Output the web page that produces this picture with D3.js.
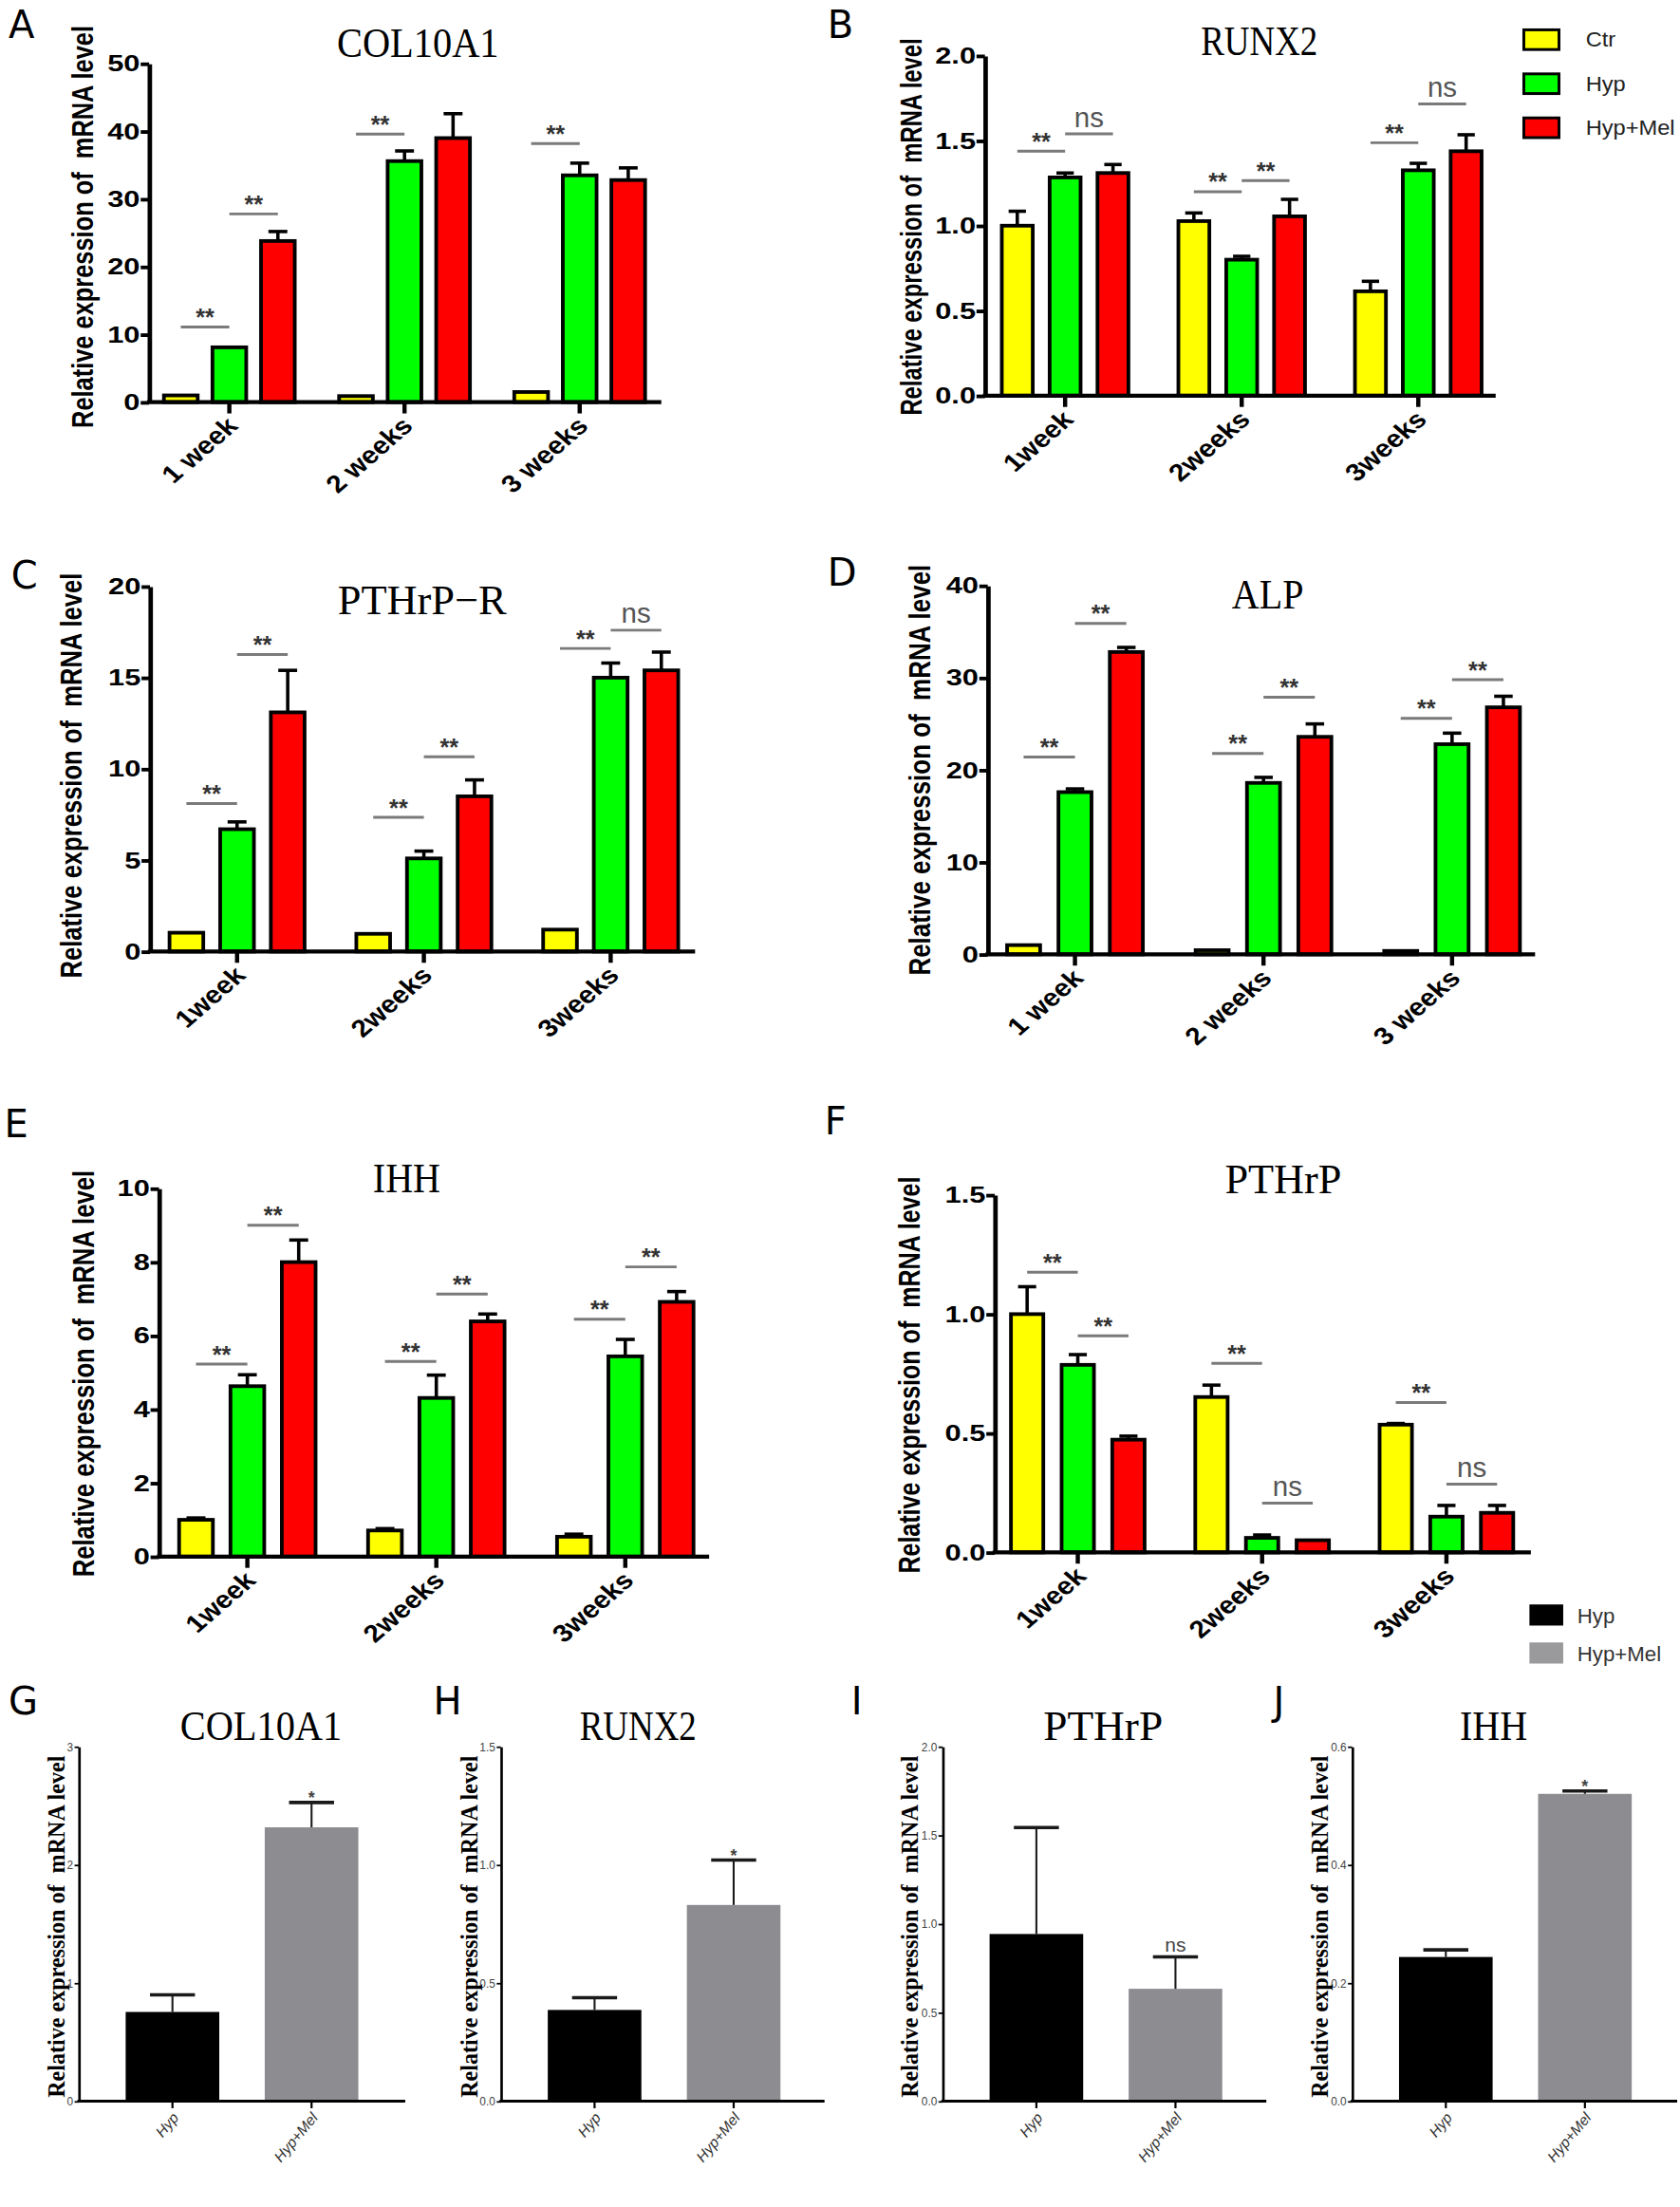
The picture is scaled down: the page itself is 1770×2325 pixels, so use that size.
<!DOCTYPE html>
<html>
<head>
<meta charset="utf-8">
<script src="https://cdn.jsdelivr.net/npm/d3@7"></script>
<style>
  body { margin: 0; background: #fff; }
  text { font-family: "Liberation Sans", Arial, sans-serif; }
</style>
</head>
<body>
<div id="chart"></div>
<script>
// qPCR figure, panels A-J

// ---- data ----
var seriesNames = ["Ctr", "Hyp", "Hyp+Mel"];
var seriesColors = ["#ffff00", "#00ff00", "#ff0000"];
var weeksSpaced = ["1 week", "2 weeks", "3 weeks"];
var weeksTight = ["1week", "2weeks", "3weeks"];

// mean per week: [Ctr, Hyp, Hyp+Mel]; err = upper error bar length
// sig rows: [week, from series, to series, line height, label]
var col10a1Ticks = [0, 10, 20, 30, 40, 50];
var col10a1Mean = [[1.0, 8.1, 23.8], [0.9, 35.6, 39.0], [1.5, 33.5, 32.8]];
var col10a1Err = [[0, 0, 1.4], [0, 1.5, 3.6], [0, 1.8, 1.8]];
var col10a1Sig = [[0, 0, 1, 11.1, "**"], [0, 1, 2, 27.8, "**"], [1, 0, 1, 39.6, "**"], [2, 0, 1, 38.2, "**"]];

var runx2Ticks = [0, 0.5, 1.0, 1.5, 2.0];
var runx2Mean = [[1.0, 1.284, 1.31], [1.027, 0.80, 1.055], [0.614, 1.326, 1.438]];
var runx2Err = [[0.085, 0.026, 0.05], [0.048, 0.02, 0.10], [0.059, 0.041, 0.097]];
var runx2Sig = [[0, 0, 1, 1.438, "**"], [0, 1, 2, 1.54, "ns"], [1, 0, 1, 1.2, "**"], [1, 1, 2, 1.265, "**"], [2, 0, 1, 1.488, "**"], [2, 1, 2, 1.716, "ns"]];

var pthrprTicks = [0, 5, 10, 15, 20];
var pthrprMean = [[1.03, 6.7, 13.1], [0.97, 5.1, 8.5], [1.2, 15.0, 15.4]];
var pthrprErr = [[0, 0.4, 2.3], [0, 0.4, 0.9], [0, 0.8, 1.0]];
var pthrprSig = [[0, 0, 1, 8.1, "**"], [0, 1, 2, 16.27, "**"], [1, 0, 1, 7.35, "**"], [1, 1, 2, 10.67, "**"], [2, 0, 1, 16.6, "**"], [2, 1, 2, 17.6, "ns"]];

var alpTicks = [0, 10, 20, 30, 40];
var alpMean = [[1.0, 17.6, 32.8], [0.45, 18.6, 23.6], [0.37, 22.8, 26.8]];
var alpErr = [[0, 0.35, 0.5], [0, 0.6, 1.4], [0, 1.2, 1.2]];
var alpSig = [[0, 0, 1, 21.4, "**"], [0, 1, 2, 35.9, "**"], [1, 0, 1, 21.8, "**"], [1, 1, 2, 27.9, "**"], [2, 0, 1, 25.6, "**"], [2, 1, 2, 29.8, "**"]];

var ihhTicks = [0, 2, 4, 6, 8, 10];
var ihhMean = [[1.0, 4.63, 8.0], [0.71, 4.31, 6.39], [0.54, 5.44, 6.92]];
var ihhErr = [[0.05, 0.31, 0.6], [0.05, 0.62, 0.2], [0.07, 0.46, 0.28]];
var ihhSig = [[0, 0, 1, 5.23, "**"], [0, 1, 2, 9.0, "**"], [1, 0, 1, 5.3, "**"], [1, 1, 2, 7.13, "**"], [2, 0, 1, 6.45, "**"], [2, 1, 2, 7.87, "**"]];

var pthrpTicks = [0, 0.5, 1.0, 1.5];
var pthrpMean = [[1.0, 0.787, 0.473], [0.652, 0.061, 0.051], [0.536, 0.15, 0.166]];
var pthrpErr = [[0.115, 0.043, 0.015], [0.05, 0.012, 0], [0.005, 0.047, 0.031]];
var pthrpSig = [[0, 0, 1, 1.176, "**"], [0, 1, 2, 0.909, "**"], [1, 0, 1, 0.793, "**"], [1, 1, 2, 0.207, "ns"], [2, 0, 1, 0.629, "**"], [2, 1, 2, 0.286, "ns"]];

// bottom row: Hyp vs Hyp+Mel
var groupNames = ["Hyp", "Hyp+Mel"];
var groupColors = ["#000000", "#8d8c91"];
var gCol10a1Ticks = [0, 1, 2, 3];
var gCol10a1Mean = [0.755, 2.317];
var gCol10a1Err = [0.145, 0.21];
var hRunx2Ticks = [0, 0.5, 1.0, 1.5];
var hRunx2Mean = [0.386, 0.83];
var hRunx2Err = [0.052, 0.19];
var iPthrpTicks = [0, 0.5, 1.0, 1.5, 2.0];
var iPthrpMean = [0.943, 0.634];
var iPthrpErr = [0.60, 0.18];
var jIhhTicks = [0, 0.2, 0.4, 0.6];
var jIhhMean = [0.244, 0.52];
var jIhhErr = [0.012, 0.005];

var yTitle = "Relative expression of  mRNA level";

// ---- layout ----
var SX = 1.3;   // the top panels' tick and axis text is stretched sideways
var SXL = 1.15; // week labels

var topPanels = [
  {letter: "A", lx: 6, ly: 27, title: "COL10A1", tx: 297, ty: 40, tw: 115,
   cats: weeksSpaced, ticks: col10a1Ticks, fmt: "d", mean: col10a1Mean, err: col10a1Err, sig: col10a1Sig,
   ax0: 106, ax1: 470, yTop: 45, yBot: 285.6, band: [100.75, 474.25], pitch: 34.5, bw: 24,
   ylx: 66, yly: 161, yll: 286},
  {letter: "B", lx: 588, ly: 26.5, title: "RUNX2", tx: 895, ty: 39, tw: 83,
   cats: weeksTight, ticks: runx2Ticks, fmt: ".1f", mean: runx2Mean, err: runx2Err, sig: runx2Sig,
   ax0: 700, ax1: 1063, yTop: 39.4, yBot: 281, band: [694.25, 1070.75], pitch: 34, bw: 22,
   ylx: 655, yly: 161, yll: 268, legend: true},
  {letter: "C", lx: 8, ly: 418, title: "PTHrP\u2212R", tx: 300, ty: 436, tw: 120,
   cats: weeksTight, ticks: pthrprTicks, fmt: "d", mean: pthrprMean, err: pthrprErr, sig: pthrprSig,
   ax0: 106.6, ax1: 494, yTop: 416.5, yBot: 676, band: [102.1, 500.4], pitch: 36, bw: 24,
   ylx: 58, yly: 551, yll: 288},
  {letter: "D", lx: 588, ly: 416, title: "ALP", tx: 901, ty: 432, tw: 51,
   cats: weeksSpaced, ticks: alpTicks, fmt: "d", mean: alpMean, err: alpErr, sig: alpSig,
   ax0: 702, ax1: 1091, yTop: 416, yBot: 678, band: [697, 1099], pitch: 36.5, bw: 23.5,
   ylx: 661, yly: 547, yll: 292},
  {letter: "E", lx: 3, ly: 808, title: "IHH", tx: 289, ty: 847, tw: 48,
   cats: weeksTight, ticks: ihhTicks, fmt: "d", mean: ihhMean, err: ihhErr, sig: ihhSig,
   ax0: 113, ax1: 504, yTop: 844.4, yBot: 1106, band: [108.65, 511.55], pitch: 36.5, bw: 24,
   ylx: 67, yly: 976, yll: 289},
  {letter: "F", lx: 586, ly: 806, title: "PTHrP", tx: 912, ty: 848, tw: 83,
   cats: weeksTight, ticks: pthrpTicks, fmt: ".1f", mean: pthrpMean, err: pthrpErr, sig: pthrpSig,
   ax0: 707, ax1: 1088, yTop: 849, yBot: 1103, band: [700.5, 1093.5], pitch: 36, bw: 23,
   ylx: 654, yly: 977, yll: 282}
];

var bottomPanels = [
  {letter: "G", lx: 6, title: "COL10A1", tx: 185.5, tw: 115, ticks: gCol10a1Ticks, fmt: "d",
   mean: gCol10a1Mean, err: gCol10a1Err, mark: "*", ax0: 56, ax1: 288, ylx: 46},
  {letter: "H", lx: 308, title: "RUNX2", tx: 453.5, tw: 83, ticks: hRunx2Ticks, fmt: ".1f",
   mean: hRunx2Mean, err: hRunx2Err, mark: "*", ax0: 356, ax1: 586, ylx: 339},
  {letter: "I", lx: 605, title: "PTHrP", tx: 784, tw: 85, ticks: iPthrpTicks, fmt: ".1f",
   mean: iPthrpMean, err: iPthrpErr, mark: "ns", ax0: 670, ax1: 900, ylx: 652},
  {letter: "J", lx: 905, title: "IHH", tx: 1061.5, tw: 48, ticks: jIhhTicks, fmt: ".1f",
   mean: jIhhMean, err: jIhhErr, mark: "*", ax0: 961, ax1: 1192, ylx: 944}
];

var svg = d3.select("#chart").append("svg")
  .attr("width", 1770)
  .attr("height", 2325)
  .attr("viewBox", "0 0 1194 1568");

svg.append("rect").attr("width", 1194).attr("height", 1568).attr("fill", "#fff");

function panelLetter(txt, x, y) {
  svg.append("text")
    .attr("x", x).attr("y", y)
    .style("font-family", "'DejaVu Sans', sans-serif")
    .attr("font-size", 27)
    .text(txt);
}

function panelTitle(txt, x, y, w) {
  svg.append("text")
    .attr("x", x - w / 2).attr("y", y)
    .attr("textLength", w)
    .attr("lengthAdjust", "spacingAndGlyphs")
    .style("font-family", "'Liberation Serif', 'Times New Roman', serif")
    .attr("font-size", 30)
    .text(txt);
}

function drawTop(p) {
  var g = svg.append("g");
  var y = d3.scaleLinear().domain([0, d3.max(p.ticks)]).range([p.yBot, p.yTop]);
  var x0 = d3.scaleBand().domain(p.cats).range(p.band);
  var pad = (p.pitch - p.bw) / p.pitch;
  var x1 = d3.scaleBand().domain(seriesNames)
    .range([-1.5 * p.pitch, 1.5 * p.pitch])
    .paddingInner(pad).paddingOuter(pad / 2);

  var rows = [];
  p.cats.forEach(function(c, i) {
    seriesNames.forEach(function(s, j) {
      rows.push({cat: c, s: s, j: j, v: p.mean[i][j], e: p.err[i][j]});
    });
  });
  function left(d) { return x0(d.cat) + x0.bandwidth() / 2 + x1(d.s); }
  function mid(d) { return left(d) + x1.bandwidth() / 2; }

  // error bars (upper only)
  var eb = g.append("g").selectAll("g").data(rows.filter(function(d) { return d.e > 0; }))
    .enter().append("g")
    .attr("stroke", "#000").attr("stroke-width", 2.4);
  eb.append("line")
    .attr("x1", mid).attr("x2", mid)
    .attr("y1", function(d) { return y(d.v); })
    .attr("y2", function(d) { return y(d.v + d.e); });
  eb.append("line")
    .attr("x1", function(d) { return mid(d) - p.bw * 0.28; })
    .attr("x2", function(d) { return mid(d) + p.bw * 0.28; })
    .attr("y1", function(d) { return y(d.v + d.e); })
    .attr("y2", function(d) { return y(d.v + d.e); });

  g.append("g").selectAll("rect").data(rows).enter().append("rect")
    .attr("x", left)
    .attr("y", function(d) { return y(d.v); })
    .attr("width", x1.bandwidth())
    .attr("height", function(d) { return y(0) - y(d.v); })
    .attr("fill", function(d) { return seriesColors[d.j]; })
    .attr("stroke", "#000")
    .attr("stroke-width", 2.6);

  // y axis
  var ya = g.append("g")
    .attr("transform", "translate(" + p.ax0 + ",0)")
    .call(d3.axisLeft(y).tickValues(p.ticks).tickSize(6).tickSizeOuter(0)
      .tickFormat(d3.format(p.fmt)));
  ya.select(".domain").attr("stroke-width", 3.2);
  ya.selectAll(".tick line").attr("stroke-width", 2.6);
  ya.selectAll(".tick text")
    .attr("x", -6.5 / SX)
    .attr("transform", "scale(" + SX + ",1)")
    .attr("font-size", 16).attr("font-weight", "bold")
    .style("font-family", "'Liberation Sans', Arial, sans-serif")
    .attr("fill", "#000");

  // x axis
  g.append("line")
    .attr("x1", p.ax0 - 1.5).attr("x2", p.ax1)
    .attr("y1", y(0)).attr("y2", y(0))
    .attr("stroke", "#000").attr("stroke-width", 2.8);
  var xa = g.append("g")
    .attr("transform", "translate(0," + y(0) + ")")
    .call(d3.axisBottom(x0).tickSize(8).tickSizeOuter(0));
  xa.select(".domain").remove();
  xa.selectAll(".tick line").attr("stroke-width", 3);
  xa.selectAll(".tick text")
    .attr("x", 0).attr("y", 0).attr("dy", null)
    .attr("text-anchor", "end")
    .attr("transform", "translate(7,18) scale(" + SXL + ",1) rotate(-45)")
    .attr("font-size", 17.5).attr("font-weight", "bold")
    .style("font-family", "'Liberation Sans', Arial, sans-serif")
    .attr("fill", "#000");

  // y title
  g.append("text")
    .attr("transform", "translate(" + p.ylx + "," + p.yly + ") scale(" + SX + ",1) rotate(-90)")
    .attr("text-anchor", "middle")
    .attr("textLength", p.yll)
    .attr("lengthAdjust", "spacingAndGlyphs")
    .style("white-space", "pre")
    .attr("font-size", 16.5).attr("font-weight", "bold")
    .text(yTitle);

  // significance marks
  var sg = g.append("g").selectAll("g").data(p.sig).enter().append("g");
  function sx1(d) { return mid({cat: p.cats[d[0]], s: seriesNames[d[1]]}); }
  function sx2(d) { return mid({cat: p.cats[d[0]], s: seriesNames[d[2]]}); }
  sg.append("line")
    .attr("x1", sx1).attr("x2", sx2)
    .attr("y1", function(d) { return y(d[3]); })
    .attr("y2", function(d) { return y(d[3]); })
    .attr("stroke", "#7a7a7a").attr("stroke-width", 2);
  sg.append("text")
    .attr("x", function(d) { return (sx1(d) + sx2(d)) / 2 - (d[4] === "ns" ? 10.5 : 0); })
    .attr("y", function(d) { return y(d[3]) - (d[4] === "ns" ? 5 : 1); })
    .attr("text-anchor", function(d) { return d[4] === "ns" ? null : "middle"; })
    .attr("textLength", function(d) { return d[4] === "ns" ? 21 : null; })
    .attr("lengthAdjust", "spacingAndGlyphs")
    .attr("font-size", function(d) { return d[4] === "ns" ? 20 : 17; })
    .attr("font-weight", function(d) { return d[4] === "ns" ? "normal" : "bold"; })
    .attr("fill", function(d) { return d[4] === "ns" ? "#555" : "#333"; })
    .text(function(d) { return d[4]; });

  panelLetter(p.letter, p.lx, p.ly);
  panelTitle(p.title, p.tx, p.ty, p.tw);

  if (p.legend) {
    var lg = svg.append("g").attr("transform", "translate(1083,21)");
    var li = lg.selectAll("g").data(seriesNames).enter().append("g")
      .attr("transform", function(d, i) { return "translate(0," + (i * 31.3) + ")"; });
    li.append("rect")
      .attr("width", 25).attr("height", 14)
      .attr("fill", function(d, i) { return seriesColors[i]; })
      .attr("stroke", "#000").attr("stroke-width", 2);
    li.append("text")
      .attr("transform", "translate(44,12) scale(1.1,1)")
      .attr("font-size", 14.5).attr("fill", "#222")
      .text(function(d) { return d; });
  }
}

function drawBottom(p) {
  var g = svg.append("g");
  var y = d3.scaleLinear().domain([0, d3.max(p.ticks)]).range([1493, 1241]);
  var x = d3.scaleBand().domain(groupNames).range([p.ax0, p.ax0 + 232])
    .paddingInner(0.327).paddingOuter(0.337);
  var rows = groupNames.map(function(n, i) { return {n: n, i: i, v: p.mean[i], e: p.err[i]}; });
  function mid(d) { return x(d.n) + x.bandwidth() / 2; }

  g.append("g").selectAll("rect").data(rows).enter().append("rect")
    .attr("x", function(d) { return x(d.n); })
    .attr("y", function(d) { return y(d.v); })
    .attr("width", x.bandwidth())
    .attr("height", function(d) { return y(0) - y(d.v); })
    .attr("fill", function(d) { return groupColors[d.i]; });

  var eb = g.append("g").selectAll("g").data(rows).enter().append("g").attr("stroke", "#1a1a1a");
  eb.append("line")
    .attr("x1", mid).attr("x2", mid)
    .attr("y1", function(d) { return y(d.v); })
    .attr("y2", function(d) { return y(d.v + d.e); })
    .attr("stroke-width", 1.4);
  eb.append("line")
    .attr("x1", function(d) { return mid(d) - 16; })
    .attr("x2", function(d) { return mid(d) + 16; })
    .attr("y1", function(d) { return y(d.v + d.e); })
    .attr("y2", function(d) { return y(d.v + d.e); })
    .attr("stroke-width", 2.4);

  var ya = g.append("g")
    .attr("transform", "translate(" + p.ax0 + ",0)")
    .call(d3.axisLeft(y).tickValues(p.ticks).tickSize(3).tickPadding(1).tickSizeOuter(0)
      .tickFormat(d3.format(p.fmt)));
  ya.select(".domain").attr("stroke-width", 1.8);
  ya.selectAll(".tick line").attr("stroke-width", 1.2);
  ya.selectAll(".tick text")
    .attr("font-size", 8).attr("fill", "#444")
    .style("font-family", "'Liberation Sans', Arial, sans-serif");

  g.append("line")
    .attr("x1", p.ax0 - 1).attr("x2", p.ax1)
    .attr("y1", y(0)).attr("y2", y(0))
    .attr("stroke", "#000").attr("stroke-width", 2);
  var xa = g.append("g")
    .attr("transform", "translate(0," + y(0) + ")")
    .call(d3.axisBottom(x).tickSize(5).tickSizeOuter(0));
  xa.select(".domain").remove();
  xa.selectAll(".tick line").attr("stroke-width", 1.5);
  xa.selectAll(".tick text")
    .attr("x", 0).attr("y", 0).attr("dy", null)
    .attr("text-anchor", "end")
    .attr("transform", "translate(5,12) rotate(-50)")
    .attr("font-size", 10.5).attr("font-style", "italic").attr("fill", "#333")
    .style("font-family", "'Liberation Sans', Arial, sans-serif");

  g.append("text")
    .attr("transform", "translate(" + p.ylx + ",1369) rotate(-90)")
    .attr("text-anchor", "middle")
    .attr("textLength", 243)
    .attr("lengthAdjust", "spacingAndGlyphs")
    .style("white-space", "pre")
    .style("font-family", "'Liberation Serif', 'Times New Roman', serif")
    .attr("font-size", 17).attr("font-weight", "bold")
    .text(yTitle);

  // mark over the Hyp+Mel bar
  var top = rows[1];
  var isNs = p.mark === "ns";
  g.append("text")
    .attr("x", mid(top) - (isNs ? 7.5 : 0))
    .attr("y", y(top.v + top.e) - (isNs ? 4 : -1))
    .attr("text-anchor", isNs ? null : "middle")
    .attr("textLength", isNs ? 15 : null)
    .attr("lengthAdjust", "spacingAndGlyphs")
    .attr("font-size", isNs ? 14 : 12)
    .attr("font-weight", isNs ? "normal" : "bold")
    .attr("fill", "#444")
    .text(p.mark);

  panelLetter(p.letter, p.lx, 1218);
  panelTitle(p.title, p.tx, 1236, p.tw);
}

topPanels.forEach(drawTop);
bottomPanels.forEach(drawBottom);

// legend for the two-group panels
var lg2 = svg.append("g").attr("transform", "translate(1087,1140)");
var li2 = lg2.selectAll("g").data(groupNames).enter().append("g")
  .attr("transform", function(d, i) { return "translate(0," + (i * 27) + ")"; });
li2.append("rect")
  .attr("width", 24).attr("height", 15)
  .attr("fill", function(d, i) { return i === 0 ? "#000" : "#9a9a9c"; });
li2.append("text")
  .attr("x", 34).attr("y", 13)
  .attr("font-size", 15).attr("fill", "#333")
  .text(function(d) { return d; });
</script>
</body>
</html>
